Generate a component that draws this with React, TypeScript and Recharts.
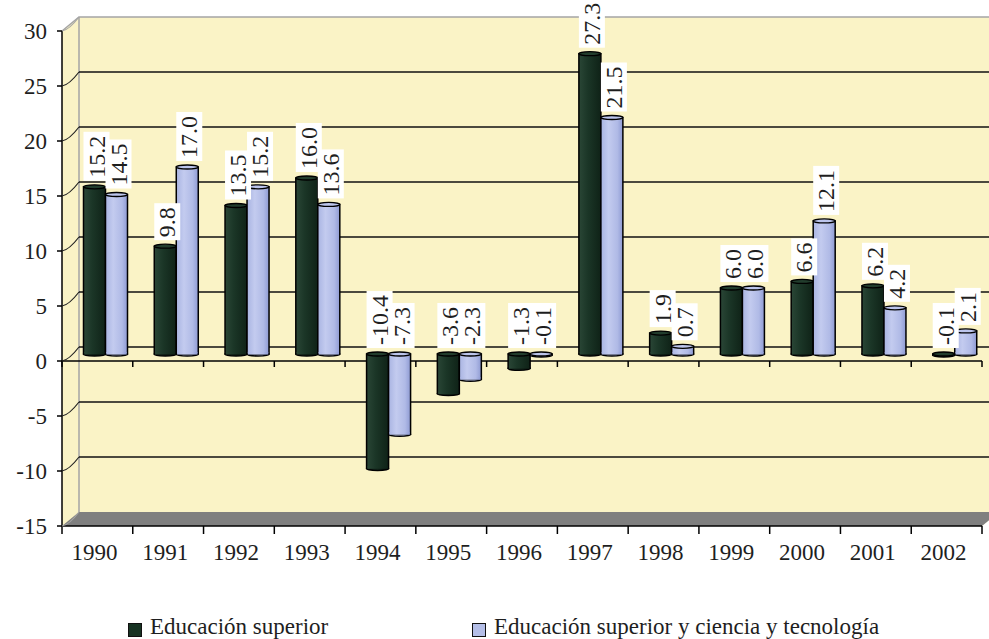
import React from 'react';
import { BarChart, Bar, XAxis, YAxis, ReferenceLine, LabelList } from 'recharts';

const years = ['1990', '1991', '1992', '1993', '1994', '1995', '1996', '1997', '1998', '1999', '2000', '2001', '2002'];
const educacionSuperior = [15.2, 9.8, 13.5, 16.0, -10.4, -3.6, -1.3, 27.3, 1.9, 6.0, 6.6, 6.2, -0.1];
const educacionSuperiorCyT = [14.5, 17.0, 15.2, 13.6, -7.3, -2.3, -0.1, 21.5, 0.7, 6.0, 12.1, 4.2, 2.1];
const yTicks = [-15, -10, -5, 0, 5, 10, 15, 20, 25, 30];
const seriesNames = ['Educación superior', 'Educación superior y ciencia y tecnología'];

const data = years.map((year, i) => ({
  year,
  superior: educacionSuperior[i],
  cyt: educacionSuperiorCyT[i],
}));

const W = 989;
const H = 639;
const FONT = '"Liberation Serif", "DejaVu Serif", serif';
const TEXT = '#1e1e1e';
const YELLOW = '#FAF3C6';
const DARK = '#183323';
const LIGHT = '#B4BEE7';

// front plane (axes), back wall, and the bars half way in between
const FRONT_LEFT = 62;
const FRONT_TOP = 31;
const PLOT_W = 920;
const PLOT_H = 495;
const DEPTH_X = 17;
const DEPTH_Y = -14;
const BACK_LEFT = FRONT_LEFT + DEPTH_X;
const BACK_TOP = FRONT_TOP + DEPTH_Y;
const BAR_LEFT = FRONT_LEFT + DEPTH_X / 2;
const BAR_TOP = FRONT_TOP + DEPTH_Y / 2;
const BAND = PLOT_W / years.length;
const DOMAIN: [number, number] = [yTicks[0], yTicks[yTicks.length - 1]];
const ZERO_FROM_TOP = (DOMAIN[1] / (DOMAIN[1] - DOMAIN[0])) * PLOT_H;
const LABEL_SIZE = 24;

const textWidth = (s: string) =>
  s.split('').reduce((w, c) => w + (c === '.' ? 0.25 : c === '-' ? 0.333 : 0.5), 0) * LABEL_SIZE;

const FrontYTick = (props: any) => {
  const { y, payload } = props;
  const v = payload.value;
  const edge = v === DOMAIN[0] || v === DOMAIN[1];
  return (
    <g>
      <line x1={FRONT_LEFT - 5} y1={y} x2={FRONT_LEFT} y2={y} stroke="#000" strokeWidth={1.5} />
      <path
        d={`M${FRONT_LEFT},${y} Q${FRONT_LEFT + 7},${y - 1} ${FRONT_LEFT + DEPTH_X},${y + DEPTH_Y}`}
        stroke={edge ? '#a5a5a5' : '#222'}
        strokeWidth={1.2}
        fill="none"
      />
      <text x={FRONT_LEFT - 15} y={y} dy={8} textAnchor="end" fontSize={23} fill={TEXT} style={{ fontFamily: FONT }}>
        {v}
      </text>
    </g>
  );
};

const FrontXTick = (props: any) => {
  const { x, payload, index } = props;
  const bottomY = FRONT_TOP + PLOT_H;
  const zeroY = FRONT_TOP + ZERO_FROM_TOP;
  const edges = [x - BAND / 2];
  if (index === years.length - 1) edges.push(x + BAND / 2);
  return (
    <g>
      {edges.map((ex) => (
        <g key={ex}>
          <line x1={ex} y1={bottomY} x2={ex} y2={bottomY + 8} stroke="#000" strokeWidth={1.5} />
          <line x1={ex} y1={zeroY} x2={ex} y2={zeroY + 6} stroke="#000" strokeWidth={1.5} />
        </g>
      ))}
      <text x={x - 3} y={bottomY + 34} textAnchor="middle" fontSize={23} fill={TEXT} style={{ fontFamily: FONT }}>
        {payload.value}
      </text>
    </g>
  );
};

const CylBar = (props: any) => {
  const { x, y, width, height, gradId, capFill } = props;
  if (x == null || y == null) return null;
  const top = Math.min(y, y + height);
  const h = Math.abs(height);
  const ry = 2;
  return (
    <g>
      <ellipse cx={x + width / 2} cy={top + h} rx={width / 2} ry={ry} fill={`url(#${gradId})`} stroke="#000" strokeWidth={1.5} />
      <rect x={x} y={top} width={width} height={h} fill={`url(#${gradId})`} stroke="#000" strokeWidth={1.5} />
      <rect x={x + 0.8} y={top + h - 2} width={width - 1.6} height={2.5} fill={`url(#${gradId})`} />
      <ellipse cx={x + width / 2} cy={top} rx={width / 2} ry={ry} fill={capFill} stroke="#000" strokeWidth={1.3} />
    </g>
  );
};

const BoxLabel = (props: any) => {
  const { x, y, width, height, value } = props;
  if (value == null || x == null) return null;
  const top = Math.min(y, y + height);
  const text = Number(value).toFixed(1);
  const boxW = 26;
  const boxH = textWidth(text) + 7;
  const cx = x + width / 2 + 2;
  const bottom = top - 6;
  return (
    <g>
      <rect x={cx - boxW / 2} y={bottom - boxH} width={boxW} height={boxH} fill="#fff" />
      <text
        transform={`translate(${cx + 8},${bottom - 3}) rotate(-90)`}
        fontSize={LABEL_SIZE}
        fill={TEXT}
        style={{ fontFamily: FONT }}
      >
        {text}
      </text>
    </g>
  );
};

const Walls = () => {
  const fb = FRONT_TOP + PLOT_H;
  const bb = BACK_TOP + PLOT_H;
  const backRight = BACK_LEFT + PLOT_W;
  const frontRight = FRONT_LEFT + PLOT_W;
  return (
    <svg width={W} height={H} style={{ position: 'absolute', left: 0, top: 0 }}>
      <polygon
        points={`${FRONT_LEFT},${FRONT_TOP} ${BACK_LEFT},${BACK_TOP} ${backRight},${BACK_TOP} ${backRight},${bb} ${frontRight},${fb} ${FRONT_LEFT},${fb}`}
        fill={YELLOW}
      />
      <polygon
        points={`${FRONT_LEFT},${fb} ${BACK_LEFT},${bb} ${backRight},${bb} ${frontRight},${fb}`}
        fill="#7f7f7f"
      />
      <polyline
        points={`${FRONT_LEFT},${FRONT_TOP} ${BACK_LEFT},${BACK_TOP} ${backRight},${BACK_TOP}`}
        fill="none"
        stroke="#a5a5a5"
        strokeWidth={1.5}
      />
      <line x1={BACK_LEFT} y1={BACK_TOP} x2={BACK_LEFT} y2={bb} stroke="#a5a5a5" strokeWidth={1.5} />
    </svg>
  );
};

const LegendItem = ({ left, color, label }: { left: number; color: string; label: string }) => (
  <div style={{ position: 'absolute', left, top: 614, display: 'flex', alignItems: 'center', whiteSpace: 'nowrap' }}>
    <span
      style={{
        display: 'inline-block',
        width: 12,
        height: 12,
        background: color,
        border: '1px solid #111',
        marginRight: 8,
        marginTop: 6,
      }}
    />
    <span style={{ fontFamily: FONT, fontSize: 23, color: TEXT }}>{label}</span>
  </div>
);

export default function App() {
  const layer: React.CSSProperties = { position: 'absolute', left: 0, top: 0 };
  return (
    <div style={{ position: 'absolute', left: 0, top: 0, width: W, height: H, overflow: 'hidden', background: '#fff' }}>
      <Walls />

      {/* back wall gridlines */}
      <div style={layer}>
        <BarChart
          width={BACK_LEFT + PLOT_W + 10}
          height={H}
          data={data}
          margin={{ top: BACK_TOP, left: BACK_LEFT, right: 10, bottom: H - BACK_TOP - PLOT_H }}
        >
          <XAxis dataKey="year" hide />
          <YAxis hide domain={DOMAIN} ticks={yTicks} />
          <Bar dataKey="superior" fill="transparent" isAnimationActive={false} />
          {yTicks.slice(1, -1).map((t) => (
            <ReferenceLine key={t} y={t} stroke="#111" strokeWidth={1.5} />
          ))}
        </BarChart>
      </div>

      {/* front axes */}
      <div style={layer}>
        <BarChart
          width={W}
          height={H}
          data={data}
          margin={{ top: FRONT_TOP, left: FRONT_LEFT - 60, right: W - FRONT_LEFT - PLOT_W, bottom: H - FRONT_TOP - PLOT_H - 40 }}
        >
          <XAxis
            dataKey="year"
            height={40}
            axisLine={{ stroke: '#000', strokeWidth: 1.5 }}
            tickLine={false}
            tick={<FrontXTick />}
            interval={0}
          />
          <YAxis
            width={60}
            domain={DOMAIN}
            ticks={yTicks}
            axisLine={{ stroke: '#000', strokeWidth: 1.5 }}
            tickLine={false}
            tick={<FrontYTick />}
            interval={0}
          />
          <Bar dataKey="superior" fill="transparent" isAnimationActive={false} />
          <ReferenceLine y={0} stroke="#000" strokeWidth={1.5} />
        </BarChart>
      </div>

      {/* bars, half way between front and back */}
      <div style={layer}>
        <BarChart
          width={BAR_LEFT + PLOT_W + 10}
          height={H}
          data={data}
          margin={{ top: BAR_TOP, left: BAR_LEFT, right: 10, bottom: H - BAR_TOP - PLOT_H }}
          barGap={0}
          barSize={22}
        >
          <defs>
            <linearGradient id="gDark" x1="0" y1="0" x2="1" y2="0">
              <stop offset="0%" stopColor="#2a4636" />
              <stop offset="40%" stopColor="#1b3627" />
              <stop offset="100%" stopColor="#0f2217" />
            </linearGradient>
            <linearGradient id="gLight" x1="0" y1="0" x2="1" y2="0">
              <stop offset="0%" stopColor="#a9b4e2" />
              <stop offset="35%" stopColor="#c3cbef" />
              <stop offset="75%" stopColor="#b0bae6" />
              <stop offset="100%" stopColor="#8e9ad3" />
            </linearGradient>
          </defs>
          <XAxis dataKey="year" hide />
          <YAxis hide domain={DOMAIN} ticks={yTicks} />
          <Bar
            dataKey="superior"
            name={seriesNames[0]}
            fill={DARK}
            isAnimationActive={false}
            shape={(p: any) => <CylBar {...p} gradId="gDark" capFill="#223d2d" />}
          >
            <LabelList dataKey="superior" content={<BoxLabel />} />
          </Bar>
          <Bar
            dataKey="cyt"
            name={seriesNames[1]}
            fill={LIGHT}
            isAnimationActive={false}
            shape={(p: any) => <CylBar {...p} gradId="gLight" capFill="#bcc5ec" />}
          >
            <LabelList dataKey="cyt" content={<BoxLabel />} />
          </Bar>
        </BarChart>
      </div>

      <LegendItem left={128} color={DARK} label={seriesNames[0]} />
      <LegendItem left={472} color={LIGHT} label={seriesNames[1]} />
    </div>
  );
}
